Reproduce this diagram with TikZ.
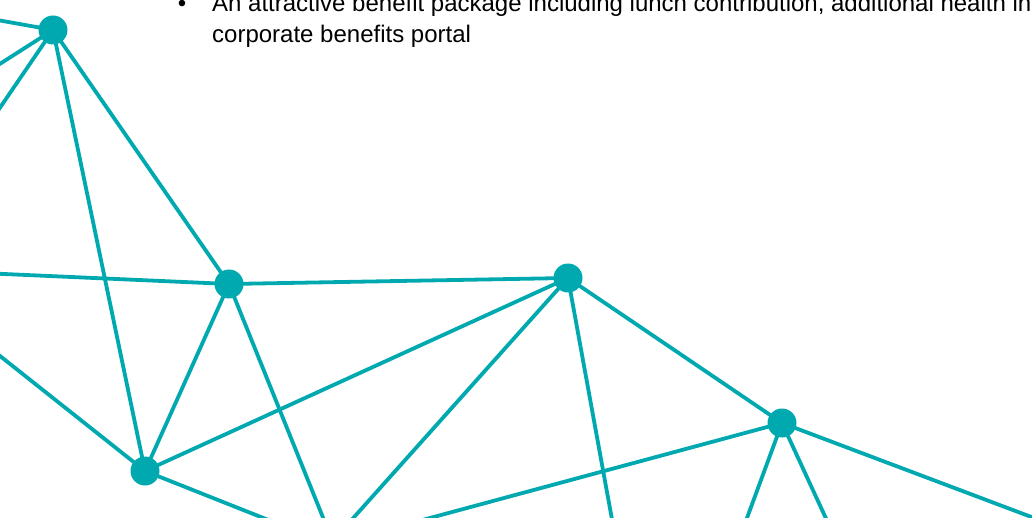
\documentclass[tikz,border=0pt]{standalone}
\usepackage{fontspec}
\setmainfont{Liberation Sans}
\definecolor{teal1}{RGB}{0,169,175}
\pgfdeclarelayer{bg}
\pgfsetlayers{bg,main}
\tikzset{
  dot/.style={circle,fill=teal1,draw=none,minimum size=29pt,inner sep=0pt},
  link/.style={draw=teal1,line width=3.8pt},
  txt/.style={anchor=base west,inner sep=0pt,font=\fontsize{24}{30}\selectfont,text=black}
}
\begin{document}
\begin{tikzpicture}[x=1pt,y=-1pt]
\useasboundingbox (0,0) rectangle (1032,518);
\clip (3,0) rectangle (1032,518);
% text
\node[txt,anchor=base] (bul) at (182,12) {•};
\node[txt] (l1) at (212,12) {An attractive benefit package including lunch contribution, additional health insurance and a};
\node[txt] (l2) at (212,43) {corporate benefits portal};
% nodes
\node[dot] (A) at (53,30) {};
\node[dot] (B) at (229,284) {};
\node[dot] (C) at (568,278) {};
\node[dot] (D) at (782,423) {};
\node[dot] (E) at (145,471) {};
% free ends
\coordinate (a1) at (-5,19.6);
\coordinate (a2) at (-5,67);
\coordinate (a3) at (-5,115);
\coordinate (b1) at (-5,273.6);
\coordinate (b2) at (326,525);
\coordinate (e1) at (-5,352);
\coordinate (e2) at (281,525);
\coordinate (c1) at (347,525);
\coordinate (c2) at (613,525);
\coordinate (d1) at (404,525);
\coordinate (d2) at (744.4,525);
\coordinate (d3) at (829,525);
\coordinate (d4) at (1050,524);
\begin{pgfonlayer}{bg}
\path[link] (A.center) -- (a1);
\path[link] (A.center) -- (a2);
\path[link] (A.center) -- (a3);
\path[link] (A.center) -- (E.center);
\path[link] (A.center) -- (B.center);
\path[link] (B.center) -- (b1);
\path[link] (B.center) -- (C.center);
\path[link] (B.center) -- (E.center);
\path[link] (B.center) -- (b2);
\path[link] (E.center) -- (C.center);
\path[link] (E.center) -- (e1);
\path[link] (E.center) -- (e2);
\path[link] (C.center) -- (c1);
\path[link] (C.center) -- (c2);
\path[link] (C.center) -- (D.center);
\path[link] (D.center) -- (d1);
\path[link] (D.center) -- (d2);
\path[link] (D.center) -- (d3);
\path[link] (D.center) -- (d4);
\end{pgfonlayer}
\end{tikzpicture}
\end{document}
